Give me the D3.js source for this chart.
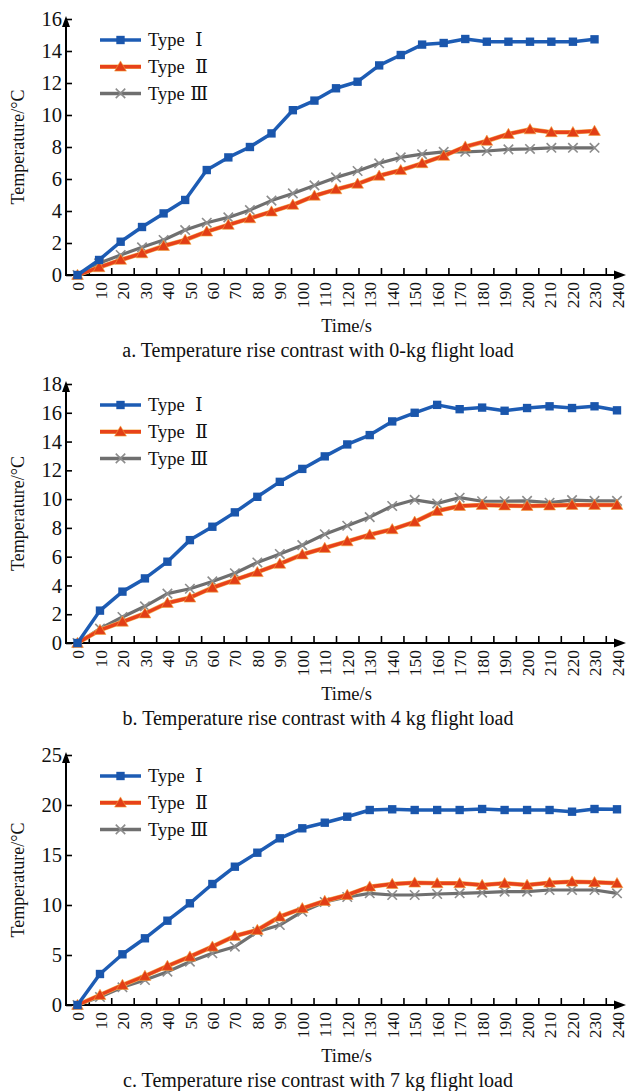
<!DOCTYPE html>
<html lang="en">
<head>
<meta charset="UTF-8">
<title>Temperature rise contrast</title>
<script src="https://d3js.org/d3.v7.min.js"></script>
<style>
  body { margin: 0; background: #fff; }
  svg text { font-family: "Liberation Serif", "Times New Roman", serif; fill: #111; }
  .legend text { font-family: "Liberation Serif", "DejaVu Serif", serif; }
</style>
</head>
<body>
<div id="chart"></div>
<script>
// x axis tick labels (s)
const xLabels = [0, 10, 20, 30, 40, 50, 60, 70, 80, 90, 100, 110, 120, 130, 140, 150, 160, 170, 180, 190, 200, 210, 220, 230, 240];

// sample times, panel a is drawn a little compressed in the source figure
const timeA = [0, 9.6, 19.2, 28.7, 38.3, 47.9, 57.5, 67.1, 76.7, 86.3, 95.8, 105.4, 115, 124.6, 134.2, 143.8, 153.3, 162.9, 172.5, 182.1, 191.7, 201.3, 210.8, 220.4, 230];
const timeB = [0, 10, 20, 30, 40, 50, 60, 70, 80, 90, 100, 110, 120, 130, 140, 150, 160, 170, 180, 190, 200, 210, 220, 230, 240];
const timeC = [0, 10, 20, 30, 40, 50, 60, 70, 80, 90, 100, 110, 120, 130, 140, 150, 160, 170, 180, 190, 200, 210, 220, 230, 240];

// a. 0-kg flight load
const typeIa   = [0, 0.94, 2.08, 3.0, 3.85, 4.69, 6.56, 7.35, 8.0, 8.85, 10.3, 10.9, 11.67, 12.08, 13.1, 13.75, 14.4, 14.5, 14.75, 14.58, 14.58, 14.58, 14.58, 14.58, 14.73];
const typeIIa  = [0, 0.48, 0.94, 1.35, 1.81, 2.19, 2.71, 3.13, 3.54, 3.96, 4.38, 4.95, 5.35, 5.7, 6.2, 6.55, 6.98, 7.44, 8.02, 8.38, 8.81, 9.1, 8.92, 8.92, 9.0];
const typeIIIa = [0, 0.73, 1.25, 1.73, 2.19, 2.81, 3.27, 3.6, 4.06, 4.65, 5.1, 5.6, 6.1, 6.5, 6.98, 7.35, 7.55, 7.7, 7.7, 7.75, 7.85, 7.88, 7.95, 7.95, 7.95];

// b. 4 kg flight load
const typeIb   = [0, 2.25, 3.57, 4.49, 5.65, 7.15, 8.08, 9.08, 10.16, 11.2, 12.1, 12.97, 13.8, 14.45, 15.4, 16.0, 16.55, 16.25, 16.36, 16.14, 16.33, 16.45, 16.33, 16.45, 16.17];
const typeIIb  = [0, 0.9, 1.47, 2.05, 2.78, 3.15, 3.84, 4.39, 4.92, 5.5, 6.15, 6.6, 7.06, 7.52, 7.9, 8.42, 9.17, 9.52, 9.59, 9.55, 9.52, 9.55, 9.59, 9.59, 9.59];
const typeIIIb = [0, 1.0, 1.81, 2.55, 3.43, 3.77, 4.28, 4.85, 5.6, 6.19, 6.8, 7.56, 8.15, 8.75, 9.52, 9.95, 9.7, 10.1, 9.85, 9.85, 9.88, 9.75, 9.93, 9.88, 9.88];

// c. 7 kg flight load
const typeIc   = [0, 3.1, 5.07, 6.67, 8.43, 10.17, 12.1, 13.83, 15.23, 16.67, 17.67, 18.23, 18.83, 19.5, 19.57, 19.5, 19.5, 19.5, 19.6, 19.5, 19.5, 19.5, 19.33, 19.6, 19.57];
const typeIIc  = [0, 1.0, 2.0, 2.9, 3.9, 4.83, 5.83, 6.9, 7.5, 8.83, 9.67, 10.4, 11.0, 11.83, 12.1, 12.23, 12.17, 12.17, 12.0, 12.17, 12.0, 12.23, 12.33, 12.27, 12.17];
const typeIIIc = [0, 0.8, 1.77, 2.5, 3.33, 4.33, 5.17, 5.83, 7.33, 8.0, 9.33, 10.3, 10.8, 11.17, 11.0, 11.0, 11.1, 11.17, 11.23, 11.33, 11.33, 11.5, 11.5, 11.5, 11.17];

const seriesWord = "Type";
const seriesNumerals = ["\u2160", "\u2161", "\u2162"];
const captions = [
  "a. Temperature rise contrast with 0-kg flight load",
  "b. Temperature rise contrast with 4 kg flight load",
  "c. Temperature rise contrast with 7 kg flight load"
];
const yTicksA = [0, 2, 4, 6, 8, 10, 12, 14, 16];
const yTicksB = [0, 2, 4, 6, 8, 10, 12, 14, 16, 18];
const yTicksC = [0, 5, 10, 15, 20, 25];

const colors = ["#1d5cb4", "#e8421a", "#6f6f6f"];
const markerColors = ["#1a56ac", "#e23e16", "#8c8c8c"];

const W = 627, H = 1091;
const axisX = 66;

const panels = [
  { time: timeA, series: [typeIa, typeIIa, typeIIIa], yTicks: yTicksA, top: 19, bottom: 275, caption: captions[0] },
  { time: timeB, series: [typeIb, typeIIb, typeIIIb], yTicks: yTicksB, top: 384, bottom: 643, caption: captions[1] },
  { time: timeC, series: [typeIc, typeIIc, typeIIIc], yTicks: yTicksC, top: 755, bottom: 1005, caption: captions[2] }
];

const svg = d3.select("#chart").append("svg")
  .attr("width", W)
  .attr("height", H);

const x = d3.scaleLinear().domain([0, 240]).range([77.5, 617]);

// marker drawing for each type
function drawMarker(g, k, px, py) {
  if (k === 0) {
    g.append("path")
      .attr("transform", `translate(${px},${py})`)
      .attr("d", d3.symbol(d3.symbolSquare, 70)())
      .attr("fill", markerColors[0]);
  } else if (k === 1) {
    g.append("path")
      .attr("transform", `translate(${px},${py + 1})`)
      .attr("d", d3.symbol(d3.symbolTriangle, 60)())
      .attr("fill", markerColors[1])
      .attr("stroke", "#f2a23a")
      .attr("stroke-width", 0.6);
  } else {
    g.append("path")
      .attr("transform", `translate(${px},${py})`)
      .attr("d", d3.symbol(d3.symbolTimes, 60)())
      .attr("fill", "none")
      .attr("stroke", markerColors[2])
      .attr("stroke-width", 1.6);
  }
}

panels.forEach(p => {
  const g = svg.append("g");
  const y = d3.scaleLinear()
    .domain([0, p.yTicks[p.yTicks.length - 1]])
    .range([p.bottom, p.top]);

  // y axis: ticks inside, labels outside
  const yAxis = g.append("g")
    .attr("transform", `translate(${axisX},0)`)
    .call(d3.axisLeft(y).tickValues(p.yTicks).tickSize(-6).tickPadding(4));
  yAxis.select(".domain").remove();
  yAxis.selectAll(".tick line").attr("stroke", "#000").attr("stroke-width", 1.6);
  yAxis.selectAll("text")
    .attr("font-size", "20.5px")
    .attr("fill", "#111");

  // x axis labels (rotated)
  const xAxis = g.append("g")
    .attr("transform", `translate(0,${p.bottom})`)
    .call(d3.axisBottom(x).tickValues(xLabels).tickSize(0).tickFormat(d => d));
  xAxis.select(".domain").remove();
  xAxis.selectAll("text")
    .attr("font-size", "17.5px")
    .attr("transform", "rotate(-90)")
    .attr("text-anchor", "end")
    .attr("x", -7)
    .attr("y", 0)
    .attr("dy", "0.35em");

  // x tick marks sit between the labels
  const xTicks = g.append("g")
    .attr("transform", `translate(0,${p.bottom})`)
    .call(d3.axisBottom(x).tickValues(xLabels.slice(0, -1).map(t => t + 5)).tickSize(-7).tickFormat(""));
  xTicks.select(".domain").remove();
  xTicks.selectAll(".tick line").attr("stroke", "#000").attr("stroke-width", 1.6);

  // axis lines with arrow heads
  g.append("line")
    .attr("x1", axisX).attr("x2", axisX)
    .attr("y1", p.bottom + 1).attr("y2", p.top + 4)
    .attr("stroke", "#000").attr("stroke-width", 2);
  g.append("path")
    .attr("d", `M${axisX},${p.top - 3} L${axisX - 4},${p.top + 8} L${axisX + 4},${p.top + 8} Z`)
    .attr("fill", "#000");
  g.append("line")
    .attr("x1", axisX - 1).attr("x2", 618)
    .attr("y1", p.bottom).attr("y2", p.bottom)
    .attr("stroke", "#000").attr("stroke-width", 2);
  g.append("path")
    .attr("d", `M626,${p.bottom} L614,${p.bottom - 4.5} L614,${p.bottom + 4.5} Z`)
    .attr("fill", "#000");

  // axis titles
  g.append("text")
    .attr("transform", `translate(24,${(p.top + p.bottom) / 2}) rotate(-90)`)
    .attr("text-anchor", "middle")
    .attr("font-size", "18px")
    .text("Temperature/\u00B0C");
  g.append("text")
    .attr("x", 346.5)
    .attr("y", p.bottom + 57)
    .attr("text-anchor", "middle")
    .attr("font-size", "18.5px")
    .text("Time/s");
  g.append("text")
    .attr("x", 318)
    .attr("y", p.bottom + 82)
    .attr("text-anchor", "middle")
    .attr("font-size", "20px")
    .text(p.caption);

  // series, drawn III first so I sits on top
  [2, 1, 0].forEach(k => {
    const vals = p.series[k];
    const pts = vals.map((v, i) => [x(p.time[i]), y(v)]);
    const line = d3.line();
    if (k === 1) {
      g.append("path")
        .attr("d", line(pts))
        .attr("fill", "none")
        .attr("stroke", "#f3b45a")
        .attr("stroke-width", 4.6);
    }
    g.append("path")
      .attr("d", line(pts))
      .attr("fill", "none")
      .attr("stroke", colors[k])
      .attr("stroke-width", k === 2 ? 3.2 : 3.5)
      .attr("stroke-linejoin", "round");
    pts.forEach(pt => drawMarker(g, k, pt[0], pt[1]));
  });

  // legend
  const lg = g.append("g").attr("class", "legend");
  seriesNumerals.forEach((num, k) => {
    const ly = p.top + 21 + k * 26.7;
    if (k === 1) {
      lg.append("line")
        .attr("x1", 100).attr("x2", 141).attr("y1", ly).attr("y2", ly)
        .attr("stroke", "#f3b45a").attr("stroke-width", 4.6);
    }
    lg.append("line")
      .attr("x1", 100).attr("x2", 141).attr("y1", ly).attr("y2", ly)
      .attr("stroke", colors[k]).attr("stroke-width", 3.5);
    drawMarker(lg, k, 120.5, ly);
    const t = lg.append("text")
      .attr("x", 148)
      .attr("y", ly)
      .attr("dy", "0.35em")
      .attr("font-size", "18.5px");
    t.append("tspan").text(seriesWord + " ");
    t.append("tspan").attr("dx", k === 2 ? 1 : 6).text(num);
  });
});
</script>
</body>
</html>
